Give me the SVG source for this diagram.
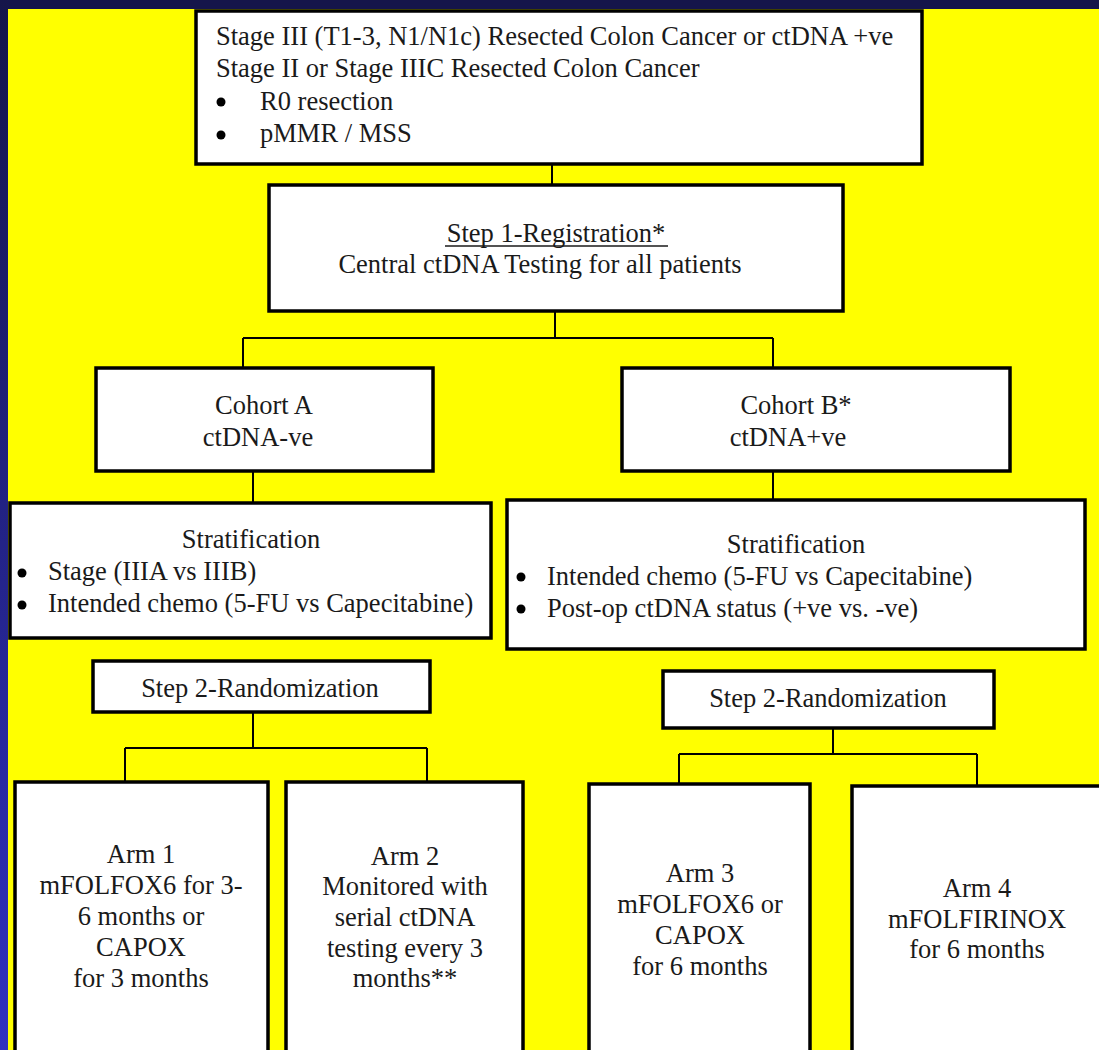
<svg xmlns="http://www.w3.org/2000/svg" width="1099" height="1050" viewBox="0 0 1099 1050">
<defs>
<linearGradient id="bandL" x1="0" y1="0" x2="0" y2="1">
<stop offset="0" stop-color="#15154a"/>
<stop offset="1" stop-color="#3030c0"/>
</linearGradient>
<style>
.box{fill:#fff;stroke:#000;stroke-width:3.5}
.ln{stroke:#000;stroke-width:2;fill:none}
.dot{fill:#000}
text{font-family:"Liberation Serif","Times New Roman",serif;font-size:26.5px;fill:#1a1a1a}
.c{text-anchor:middle}
</style>
</defs>
<rect x="0" y="0" width="1099" height="1050" fill="#15154a"/>
<rect x="0" y="0" width="9" height="1050" fill="url(#bandL)"/>
<rect x="8" y="9" width="1091" height="1041" fill="#ffff00"/>

<g id="connectors">
<path class="ln" d="M552 164V185"/>
<path class="ln" d="M555 311V338M243 338H773M243 338V368M773 338V368"/>
<path class="ln" d="M253 471V503"/>
<path class="ln" d="M773 471V500"/>
<path class="ln" d="M253 712V748M125 748H427M125 748V782M427 748V782"/>
<path class="ln" d="M833 728V754M679 754H977M679 754V784M977 754V786"/>
</g>

<g id="eligibility">
<rect class="box" x="196" y="11" width="726" height="153"/>
<text x="216" y="45">Stage III (T1-3, N1/N1c) Resected Colon Cancer or ctDNA +ve</text>
<text x="216" y="77">Stage II or Stage IIIC Resected Colon Cancer</text>
<circle class="dot" cx="221" cy="102" r="4.5"/>
<text x="260" y="110">R0 resection</text>
<circle class="dot" cx="221" cy="135" r="4.5"/>
<text x="260" y="142">pMMR / MSS</text>
</g>

<g id="registration">
<rect class="box" x="269" y="185" width="574" height="126"/>
<text class="c" x="556" y="242">Step 1-Registration*</text>
<line x1="445" y1="246" x2="668" y2="246" stroke="#1a1a1a" stroke-width="1.3"/>
<text class="c" x="540" y="273">Central ctDNA Testing for all patients</text>
</g>

<g id="cohortA">
<rect class="box" x="96" y="368" width="337" height="103"/>
<text class="c" x="264" y="414">Cohort A</text>
<text class="c" x="258" y="446">ctDNA-ve</text>
</g>

<g id="cohortB">
<rect class="box" x="622" y="368" width="388" height="103"/>
<text class="c" x="796" y="414">Cohort B*</text>
<text class="c" x="788" y="446">ctDNA+ve</text>
</g>

<g id="stratA">
<rect class="box" x="10" y="503" width="481" height="135"/>
<text class="c" x="251" y="548">Stratification</text>
<circle class="dot" cx="22" cy="573" r="4.5"/>
<text x="48" y="580">Stage (IIIA vs IIIB)</text>
<circle class="dot" cx="22" cy="605" r="4.5"/>
<text x="48" y="612">Intended chemo (5-FU vs Capecitabine)</text>
</g>

<g id="stratB">
<rect class="box" x="507" y="500" width="578" height="149"/>
<text class="c" x="796" y="553">Stratification</text>
<circle class="dot" cx="521" cy="577" r="4.5"/>
<text x="547" y="585">Intended chemo (5-FU vs Capecitabine)</text>
<circle class="dot" cx="521" cy="609" r="4.5"/>
<text x="547" y="617">Post-op ctDNA status (+ve vs. -ve)</text>
</g>

<g id="step2A">
<rect class="box" x="93" y="661" width="337" height="51"/>
<text class="c" x="260" y="697">Step 2-Randomization</text>
</g>

<g id="step2B">
<rect class="box" x="663" y="671" width="331" height="57"/>
<text class="c" x="828" y="707">Step 2-Randomization</text>
</g>

<g id="arm1">
<rect class="box" x="15" y="782" width="253" height="290"/>
<text class="c" x="141" y="863">Arm 1</text>
<text class="c" x="141" y="894">mFOLFOX6 for 3-</text>
<text class="c" x="141" y="925">6 months or</text>
<text class="c" x="141" y="956">CAPOX</text>
<text class="c" x="141" y="987">for 3 months</text>
</g>

<g id="arm2">
<rect class="box" x="286" y="782" width="237" height="290"/>
<text class="c" x="405" y="865">Arm 2</text>
<text class="c" x="405" y="895">Monitored with</text>
<text class="c" x="405" y="926">serial ctDNA</text>
<text class="c" x="405" y="957">testing every 3</text>
<text class="c" x="405" y="987">months**</text>
</g>

<g id="arm3">
<rect class="box" x="589" y="784" width="221" height="290"/>
<text class="c" x="700" y="882">Arm 3</text>
<text class="c" x="700" y="913">mFOLFOX6 or</text>
<text class="c" x="700" y="944">CAPOX</text>
<text class="c" x="700" y="975">for 6 months</text>
</g>

<g id="arm4">
<rect class="box" x="852" y="786" width="280" height="290"/>
<text class="c" x="977" y="897">Arm 4</text>
<text class="c" x="977" y="928">mFOLFIRINOX</text>
<text class="c" x="977" y="958">for 6 months</text>
</g>
</svg>
